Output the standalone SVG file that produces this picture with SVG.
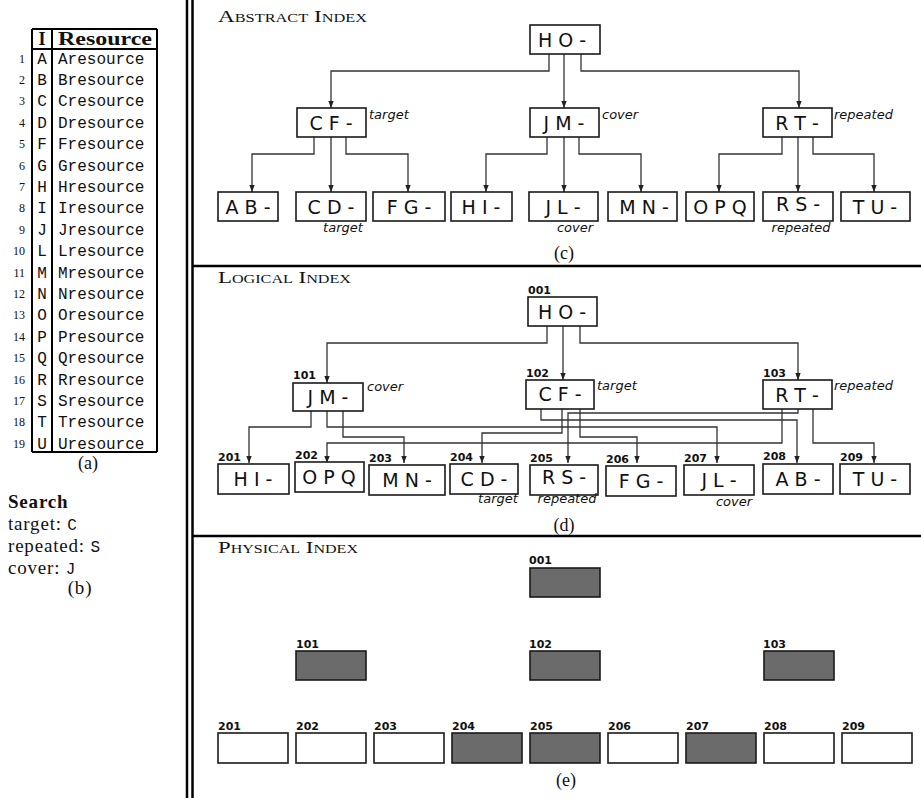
<svg xmlns="http://www.w3.org/2000/svg" width="921" height="798" viewBox="0 0 921 798">
<defs>
<marker id="ah" markerWidth="8" markerHeight="8" refX="7" refY="3" orient="auto" markerUnits="userSpaceOnUse"><path d="M0,0.3 L7,3 L0,5.7 z" fill="#222"/></marker>
<style>
.bx{fill:#fff;stroke:#1a1a1a;stroke-width:1.6}
.dk{fill:#6b6b6b;stroke:#1a1a1a;stroke-width:1.6}
.t{font-family:"DejaVu Sans",sans-serif;font-size:19px;fill:#111;text-anchor:middle}
.it{font-family:"DejaVu Sans",sans-serif;font-style:italic;font-size:13px;fill:#111}
.num{font-family:"DejaVu Sans",sans-serif;font-weight:bold;font-size:11px;fill:#111}
.ser{font-family:"Liberation Serif",serif;font-size:18px;fill:#111}
.srch{font-family:"Liberation Serif",serif;font-size:19px;letter-spacing:0.8px;fill:#111}
.sc{font-family:"Liberation Serif",serif;font-size:17px;font-variant:small-caps;fill:#111}
.mono{font-family:"Liberation Mono",monospace;font-size:16px;fill:#111}
.rn{font-family:"Liberation Serif",serif;font-size:12px;fill:#111;text-anchor:end}
.c{fill:none;stroke:#333;stroke-width:1.3}
.rule{stroke:#000;stroke-width:2.5}
</style>
</defs>
<rect width="921" height="798" fill="#fff"/>

<!-- separators -->
<g id="rules">
<line class="rule" x1="187" y1="0" x2="187" y2="798"/>
<line class="rule" x1="192.5" y1="0" x2="192.5" y2="798"/>
<line class="rule" x1="193" y1="266" x2="921" y2="266"/>
<line class="rule" x1="193" y1="536" x2="921" y2="536"/>
</g>

<!-- table (a) -->
<g id="table">
<g stroke="#000" stroke-width="2" fill="none">
<line x1="32" y1="29" x2="157" y2="29"/>
<line x1="32" y1="49" x2="157" y2="49"/>
<line x1="32" y1="452" x2="157" y2="452"/>
<line x1="32" y1="29" x2="32" y2="452"/>
<line x1="52" y1="29" x2="52" y2="452"/>
<line x1="157" y1="29" x2="157" y2="452"/>
</g>
<text class="ser" x="42" y="45" text-anchor="middle" font-weight="bold">I</text>
<text class="ser" x="58" y="45" font-weight="bold" textLength="94" lengthAdjust="spacingAndGlyphs">Resource</text>
<g class="mono">
<text x="42" y="63.5" text-anchor="middle">A</text><text x="58" y="63.5">Aresource</text>
<text x="42" y="85" text-anchor="middle">B</text><text x="58" y="85">Bresource</text>
<text x="42" y="106.3" text-anchor="middle">C</text><text x="58" y="106.3">Cresource</text>
<text x="42" y="127.7" text-anchor="middle">D</text><text x="58" y="127.7">Dresource</text>
<text x="42" y="149.1" text-anchor="middle">F</text><text x="58" y="149.1">Fresource</text>
<text x="42" y="170.5" text-anchor="middle">G</text><text x="58" y="170.5">Gresource</text>
<text x="42" y="191.9" text-anchor="middle">H</text><text x="58" y="191.9">Hresource</text>
<text x="42" y="213.3" text-anchor="middle">I</text><text x="58" y="213.3">Iresource</text>
<text x="42" y="234.7" text-anchor="middle">J</text><text x="58" y="234.7">Jresource</text>
<text x="42" y="256.1" text-anchor="middle">L</text><text x="58" y="256.1">Lresource</text>
<text x="42" y="277.5" text-anchor="middle">M</text><text x="58" y="277.5">Mresource</text>
<text x="42" y="298.9" text-anchor="middle">N</text><text x="58" y="298.9">Nresource</text>
<text x="42" y="320.3" text-anchor="middle">O</text><text x="58" y="320.3">Oresource</text>
<text x="42" y="341.7" text-anchor="middle">P</text><text x="58" y="341.7">Presource</text>
<text x="42" y="363.1" text-anchor="middle">Q</text><text x="58" y="363.1">Qresource</text>
<text x="42" y="384.5" text-anchor="middle">R</text><text x="58" y="384.5">Rresource</text>
<text x="42" y="405.9" text-anchor="middle">S</text><text x="58" y="405.9">Sresource</text>
<text x="42" y="427.3" text-anchor="middle">T</text><text x="58" y="427.3">Tresource</text>
<text x="42" y="448.7" text-anchor="middle">U</text><text x="58" y="448.7">Uresource</text>
</g>
<g class="rn">
<text x="25" y="62.5">1</text><text x="25" y="83.9">2</text><text x="25" y="105.3">3</text><text x="25" y="126.7">4</text>
<text x="25" y="148.1">5</text><text x="25" y="169.5">6</text><text x="25" y="190.9">7</text><text x="25" y="212.3">8</text>
<text x="25" y="233.7">9</text><text x="25" y="255.1">10</text><text x="25" y="276.5">11</text><text x="25" y="297.9">12</text>
<text x="25" y="319.3">13</text><text x="25" y="340.7">14</text><text x="25" y="362.1">15</text><text x="25" y="383.5">16</text>
<text x="25" y="404.9">17</text><text x="25" y="426.3">18</text><text x="25" y="447.7">19</text>
</g>
<text class="ser" x="88" y="469" text-anchor="middle">(a)</text>
</g>

<!-- search (b) -->
<g id="search">
<text class="srch" x="8" y="508" font-weight="bold">Search</text>
<text class="srch" x="8" y="530">target: <tspan class="mono" letter-spacing="0">C</tspan></text>
<text class="srch" x="8" y="552">repeated: <tspan class="mono" letter-spacing="0">S</tspan></text>
<text class="srch" x="8" y="574">cover: <tspan class="mono" letter-spacing="0">J</tspan></text>
<text class="srch" x="80" y="594" text-anchor="middle">(b)</text>
</g>

<!-- (c) abstract index -->
<text class="sc" x="218" y="22" textLength="149" lengthAdjust="spacingAndGlyphs">Abstract Index</text>
<g id="abstract-connectors">
<path class="c" marker-end="url(#ah)" d="M549,54 V71 H331 V108"/>
<path class="c" marker-end="url(#ah)" d="M564,54 V108"/>
<path class="c" marker-end="url(#ah)" d="M581,54 V71 H799 V108"/>
<path class="c" marker-end="url(#ah)" d="M314,137 V154 H252 V192"/>
<path class="c" marker-end="url(#ah)" d="M331,137 V192"/>
<path class="c" marker-end="url(#ah)" d="M346,137 V154 H408 V192"/>
<path class="c" marker-end="url(#ah)" d="M547,137 V154 H486 V192"/>
<path class="c" marker-end="url(#ah)" d="M564,137 V192"/>
<path class="c" marker-end="url(#ah)" d="M579,137 V154 H641 V192"/>
<path class="c" marker-end="url(#ah)" d="M782,137 V154 H719 V192"/>
<path class="c" marker-end="url(#ah)" d="M798,137 V192"/>
<path class="c" marker-end="url(#ah)" d="M813,137 V154 H874 V192"/>
</g>
<g id="a-HO"><rect class="bx" x="530" y="25" width="70" height="29"/><text class="t" x="562" y="47">H O -</text></g>
<g id="a-CF"><rect class="bx" x="297" y="108" width="69" height="29"/><text class="t" x="331" y="130">C F -</text><text class="it" x="369" y="119">target</text></g>
<g id="a-JM"><rect class="bx" x="530" y="108" width="69" height="29"/><text class="t" x="564" y="130">J M -</text><text class="it" x="602" y="119">cover</text></g>
<g id="a-RT"><rect class="bx" x="763" y="108" width="69" height="29"/><text class="t" x="797" y="130">R T -</text><text class="it" x="834" y="119">repeated</text></g>
<g id="a-AB"><rect class="bx" x="218" y="192" width="60" height="29"/><text class="t" x="248" y="214">A B -</text></g>
<g id="a-CD"><rect class="bx" x="296" y="192" width="70" height="29"/><text class="t" x="331" y="214">C D -</text><text class="it" x="343" y="232" text-anchor="middle">target</text></g>
<g id="a-FG"><rect class="bx" x="373" y="192" width="72" height="29"/><text class="t" x="409" y="214">F G -</text></g>
<g id="a-HI"><rect class="bx" x="451" y="192" width="61" height="29"/><text class="t" x="481" y="214">H I -</text></g>
<g id="a-JL"><rect class="bx" x="529" y="192" width="69" height="29"/><text class="t" x="563" y="214">J L -</text><text class="it" x="575" y="232" text-anchor="middle">cover</text></g>
<g id="a-MN"><rect class="bx" x="608" y="192" width="69" height="29"/><text class="t" x="644" y="214">M N -</text></g>
<g id="a-OPQ"><rect class="bx" x="686" y="192" width="68" height="29"/><text class="t" x="720" y="214">O P Q</text></g>
<g id="a-RS"><rect class="bx" x="763" y="192" width="70" height="29"/><text class="t" x="798" y="211">R S -</text><text class="it" x="801" y="232" text-anchor="middle">repeated</text></g>
<g id="a-TU"><rect class="bx" x="841" y="192" width="69" height="29"/><text class="t" x="875" y="214">T U -</text></g>
<text class="ser" x="564" y="259" text-anchor="middle">(c)</text>

<!-- (d) logical index -->
<text class="sc" x="218" y="283" textLength="133" lengthAdjust="spacingAndGlyphs">Logical Index</text>
<g id="logical-connectors">
<path class="c" marker-end="url(#ah)" d="M547,326 V343 H327 V383"/>
<path class="c" marker-end="url(#ah)" d="M563,326 V380"/>
<path class="c" marker-end="url(#ah)" d="M580,326 V343 H798 V380"/>
<path class="c" marker-end="url(#ah)" d="M311,411 V427 H249 V463"/>
<path class="c" marker-end="url(#ah)" d="M327,411 V427 H717 V463"/>
<path class="c" marker-end="url(#ah)" d="M343,411 V437 H404 V463"/>
<path class="c" marker-end="url(#ah)" d="M782,409 V443 H327 V463"/>
<path class="c" marker-end="url(#ah)" d="M813,409 V443 H874 V463"/>
<path class="c" marker-end="url(#ah)" d="M798,409 V413 H568 V463"/>
<path class="c" marker-end="url(#ah)" d="M541,409 V420 H797 V463"/>
<path class="c" marker-end="url(#ah)" d="M562,409 V433 H482 V463"/>
<path class="c" marker-end="url(#ah)" d="M580,409 V437 H637 V463"/>
</g>
<g id="l-001"><text class="num" x="528" y="294">001</text><rect class="bx" x="528" y="297" width="69" height="29"/><text class="t" x="562" y="319">H O -</text></g>
<g id="l-101"><text class="num" x="293" y="379">101</text><rect class="bx" x="293" y="383" width="70" height="28"/><text class="t" x="328" y="404">J M -</text><text class="it" x="367" y="391">cover</text></g>
<g id="l-102"><text class="num" x="526" y="377">102</text><rect class="bx" x="526" y="380" width="68" height="29"/><text class="t" x="560" y="401">C F -</text><text class="it" x="597" y="390">target</text></g>
<g id="l-103"><text class="num" x="763" y="377">103</text><rect class="bx" x="763" y="380" width="69" height="29"/><text class="t" x="797" y="402">R T -</text><text class="it" x="834" y="390">repeated</text></g>
<g id="l-201"><text class="num" x="218" y="461">201</text><rect class="bx" x="218" y="464" width="71" height="30"/><text class="t" x="253" y="486">H I -</text></g>
<g id="l-202"><text class="num" x="295" y="459">202</text><rect class="bx" x="295" y="462" width="69" height="30"/><text class="t" x="329" y="484">O P Q</text></g>
<g id="l-203"><text class="num" x="369" y="462">203</text><rect class="bx" x="369" y="465" width="76" height="30"/><text class="t" x="407" y="487">M N -</text></g>
<g id="l-204"><text class="num" x="450" y="461">204</text><rect class="bx" x="450" y="464" width="68" height="30"/><text class="t" x="484" y="486">C D -</text><text class="it" x="498" y="503" text-anchor="middle">target</text></g>
<g id="l-205"><text class="num" x="530" y="462">205</text><rect class="bx" x="530" y="465" width="68" height="30"/><text class="t" x="564" y="484">R S -</text><text class="it" x="567" y="503" text-anchor="middle">repeated</text></g>
<g id="l-206"><text class="num" x="606" y="463">206</text><rect class="bx" x="606" y="466" width="70" height="30"/><text class="t" x="641" y="488">F G -</text></g>
<g id="l-207"><text class="num" x="684" y="462">207</text><rect class="bx" x="684" y="465" width="70" height="30"/><text class="t" x="719" y="487">J L -</text><text class="it" x="734" y="506" text-anchor="middle">cover</text></g>
<g id="l-208"><text class="num" x="763" y="460">208</text><rect class="bx" x="763" y="464" width="70" height="30"/><text class="t" x="798" y="486">A B -</text></g>
<g id="l-209"><text class="num" x="840" y="461">209</text><rect class="bx" x="840" y="464" width="70" height="30"/><text class="t" x="875" y="486">T U -</text></g>
<text class="ser" x="564" y="531" text-anchor="middle">(d)</text>

<!-- (e) physical index -->
<text class="sc" x="218" y="553" textLength="140" lengthAdjust="spacingAndGlyphs">Physical Index</text>
<g id="p-001"><text class="num" x="529" y="564">001</text><rect class="dk" x="530" y="568" width="70" height="29"/></g>
<g id="p-101"><text class="num" x="296" y="648">101</text><rect class="dk" x="296" y="651" width="70" height="29"/></g>
<g id="p-102"><text class="num" x="529" y="648">102</text><rect class="dk" x="530" y="651" width="70" height="29"/></g>
<g id="p-103"><text class="num" x="763" y="648">103</text><rect class="dk" x="764" y="651" width="70" height="29"/></g>
<g id="p-201"><text class="num" x="218" y="730">201</text><rect class="bx" x="218" y="733" width="70" height="30"/></g>
<g id="p-202"><text class="num" x="296" y="730">202</text><rect class="bx" x="296" y="733" width="70" height="30"/></g>
<g id="p-203"><text class="num" x="374" y="730">203</text><rect class="bx" x="374" y="733" width="70" height="30"/></g>
<g id="p-204"><text class="num" x="452" y="730">204</text><rect class="dk" x="452" y="733" width="70" height="30"/></g>
<g id="p-205"><text class="num" x="530" y="730">205</text><rect class="dk" x="530" y="733" width="70" height="30"/></g>
<g id="p-206"><text class="num" x="608" y="730">206</text><rect class="bx" x="608" y="733" width="70" height="30"/></g>
<g id="p-207"><text class="num" x="686" y="730">207</text><rect class="dk" x="686" y="733" width="70" height="30"/></g>
<g id="p-208"><text class="num" x="764" y="730">208</text><rect class="bx" x="764" y="733" width="70" height="30"/></g>
<g id="p-209"><text class="num" x="842" y="730">209</text><rect class="bx" x="842" y="733" width="70" height="30"/></g>
<text class="ser" x="566" y="786" text-anchor="middle">(e)</text>
</svg>
